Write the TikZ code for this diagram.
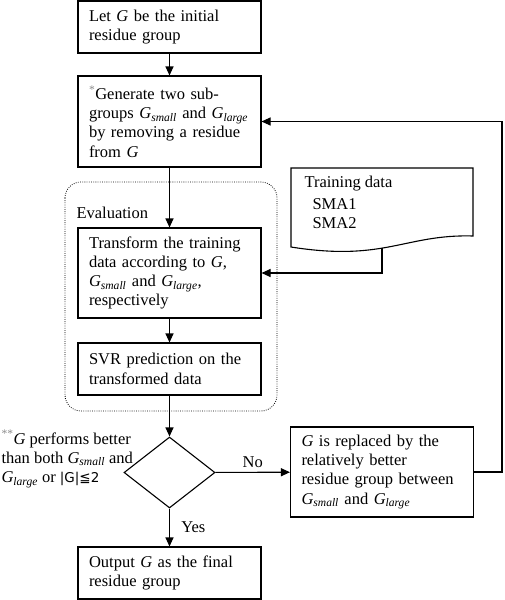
\documentclass[tikz,border=0pt]{standalone}
\usepackage{fontspec}
\setmainfont{Liberation Serif}
\newfontfamily\symfont{DejaVu Sans}
\usepackage{xcolor}
\usepackage{tikz}
\usetikzlibrary{shapes.geometric,arrows.meta}
\definecolor{ink}{HTML}{000000}
\definecolor{mark}{HTML}{8A8A8A}
\newcommand{\Gsub}[1]{\textit{G}\textsubscript{\textit{#1}}}
\newcommand{\starmark}[1]{\textsuperscript{\color{mark}#1}}

\begin{document}
\begin{tikzpicture}[x=1pt, y=-1pt, line width=1.1pt, >={Triangle[length=9pt,width=8pt]},
  every node/.style={color=ink, font=\fontsize{16.5}{19.3}\selectfont},
  procbox/.style={draw, inner xsep=11pt, inner ysep=0pt, text width=161pt, align=left},
  testbox/.style={draw, diamond, minimum width=91pt, minimum height=71pt, inner sep=0pt}]
  \useasboundingbox (0,0) rectangle (504,600);

  \node[procbox, minimum height=52pt] (init) at (169.5,27) {Let \textit{G} be the initial\\residue group};
  \node[procbox, minimum height=91pt] (gen) at (169.5,121.5)
    {\starmark{*}Generate two sub-\\groups \Gsub{small} and \Gsub{large}\\by removing a residue\\from \textit{G}};
  \node[procbox, minimum height=90pt] (trans) at (169.5,273)
    {Transform the training\\data according to \textit{G},\\\Gsub{small} and \Gsub{large},\\respectively};
  \node[procbox, minimum height=52pt] (svr) at (169.5,369) {SVR prediction on the\\transformed data};
  \node[testbox] (dec) at (169.5,472.5) {};
  \node[procbox, minimum height=90pt] (repl) at (382,472)
    {\textit{G} is replaced by the\\relatively better\\residue group between\\\Gsub{small} and \Gsub{large}};
  \node[procbox, minimum height=52pt] (out) at (169.5,573) {Output \textit{G} as the final\\residue group};

  \draw[line width=0.8pt, dash pattern=on 0.8pt off 1.4pt, rounded corners=16pt] (65,182) rectangle (277,411);
  \node[anchor=west, inner sep=0pt] (evallabel) at (76,213) {Evaluation};

  \draw (291,168) -- (473,168) -- (473,236)
    .. controls (405,234) and (385,262) .. (291,247) -- cycle;
  \node[anchor=west, inner sep=0pt] (datatitle) at (304,184) {Training data};
  \node[anchor=west, inner sep=0pt] (sma1) at (312,204) {SMA1};
  \node[anchor=west, inner sep=0pt] (sma2) at (312,223) {SMA2};
  \coordinate (dataout) at (382,248);

  \node[anchor=west, inner sep=0pt, align=left] (cond) at (1,459)
    {\starmark{**}\textit{G} performs better\\than both \Gsub{small} and\\\Gsub{large} or {\symfont\fontsize{13.5}{16}\selectfont|G|≦2}};

  \draw[->] (init) -- (gen);
  \draw[->] (gen) -- (trans);
  \draw[->] (trans) -- (svr);
  \draw[->] (svr) -- (dec);
  \draw[->] (dec) -- node[above=1pt] {No} (repl);
  \draw[->] (dec) -- node[right=8pt] {Yes} (out);
  \draw[->] (repl.east) -- (502,472) |- (gen.east);
  \draw[->] (dataout) |- (trans.east);
\end{tikzpicture}
\end{document}
